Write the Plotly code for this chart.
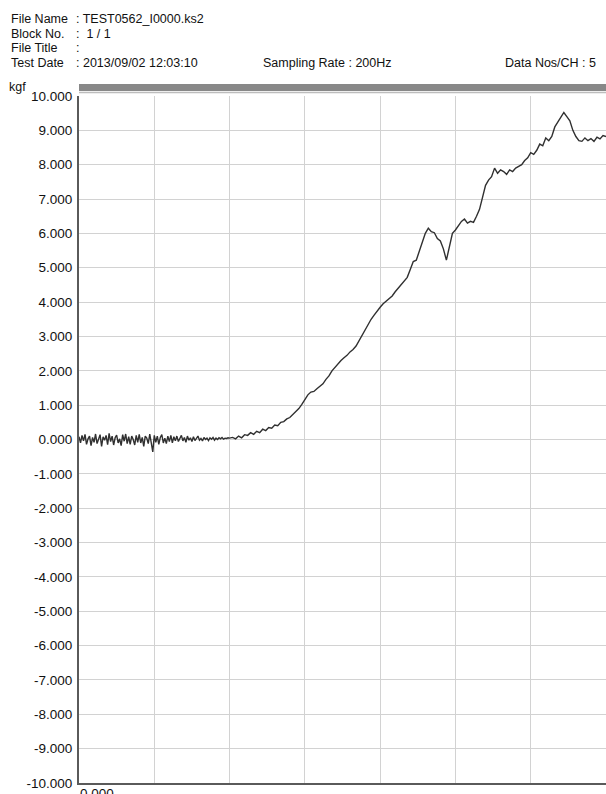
import plotly.graph_objects as go

# ---- recorded force trace (kgf) ----
# idle part, sampled every IDLE_STEP from t = 0
IDLE_STEP = 0.02
idle_kgf = [
    0.08, -0.10, 0.12, -0.04, 0.15, -0.14, 0.02, 0.10, -0.18, 0.06,
    -0.08, 0.16, -0.12, 0.04, 0.14, -0.20, 0.08, -0.02, 0.12, -0.15,
    0.18, -0.06, 0.10, -0.16, 0.05, 0.13, -0.10, 0.02, -0.18, 0.14,
    -0.05, 0.16, -0.12, 0.08, -0.14, 0.10, 0.00, -0.16, 0.12, -0.08,
    0.15, -0.10, 0.06, -0.20, 0.10, 0.04, -0.12, 0.16, -0.06, -0.36,
    0.12, -0.08, 0.10, -0.14, 0.06, 0.14, -0.10, 0.04, -0.12, 0.10,
    -0.06, 0.12, -0.10, 0.08, -0.04,
    0.10, -0.06, 0.04, 0.12, -0.04, 0.06, -0.08, 0.10, -0.02, 0.05,
    -0.06, 0.08, -0.03, 0.04, 0.10, -0.02, 0.03, -0.04, 0.06, 0.00,
    0.04, -0.03, 0.05, 0.01, 0.06, -0.02, 0.04, 0.00, 0.05, 0.02,
    0.06, 0.01, 0.04, 0.03, 0.05,
]
# loading part, sampled every LOAD_STEP from t = LOAD_START
LOAD_START = 2.0
LOAD_STEP = 0.04
load_kgf = [
    0.04,
    0.06, 0.02, 0.10, 0.05, 0.14, 0.12, 0.20, 0.15, 0.24, 0.20,
    0.30, 0.26, 0.35, 0.33, 0.42, 0.40, 0.50, 0.52, 0.60, 0.64,
    0.72, 0.80, 0.90, 1.02, 1.15, 1.30, 1.38, 1.40, 1.48, 1.55,
    1.62, 1.75, 1.85, 2.00, 2.10, 2.22, 2.30, 2.38, 2.45, 2.55,
    2.62, 2.72, 2.88, 3.02, 3.20, 3.35, 3.50, 3.62, 3.75, 3.85,
    3.95, 4.02, 4.10, 4.18, 4.30, 4.40, 4.52, 4.62, 4.72, 4.95,
    5.18, 5.22, 5.50, 5.78, 6.00, 6.15, 6.05, 6.02, 5.85, 5.78,
    5.55, 5.22, 5.60, 6.00, 6.10, 6.22, 6.35, 6.42, 6.30, 6.35,
    6.32, 6.50, 6.70, 7.05, 7.40, 7.55, 7.65, 7.90, 7.75, 7.85,
    7.80, 7.72, 7.85, 7.80, 7.90, 7.95, 8.00, 8.12, 8.20, 8.35,
    8.30, 8.42, 8.60, 8.55, 8.78, 8.70, 8.82, 9.10, 9.25, 9.38,
    9.52, 9.40, 9.28, 9.00, 8.82, 8.70, 8.68, 8.78, 8.70, 8.76,
    8.68, 8.80, 8.75, 8.85, 8.82,
]
idle_time = [i * IDLE_STEP for i in range(len(idle_kgf))]
load_time = [LOAD_START + i * LOAD_STEP for i in range(len(load_kgf))]
time_axis = idle_time + load_time
force_kgf = idle_kgf + load_kgf

y_ticks = list(range(-10, 11))
y_tick_text = [f"{v:.3f}" for v in y_ticks]  # plain hyphen for negatives
x_ticks = list(range(0, 8))
x_tick_text = ["0.000"] + [""] * (len(x_ticks) - 1)

header_labels = ["File Name", "Block No.", "File Title", "Test Date"]
header_values = [": TEST0562_I0000.ks2", ":  1 / 1", ":", ": 2013/09/02 12:03:10"]
sampling_text = "Sampling Rate : 200Hz"
data_nos_text = "Data Nos/CH : 5"
unit_text = "kgf"

# ---- page geometry (pixels) ----
W, H = 606, 794
PL, PR, PT, PB = 79, 606, 96, 783

def px(x):
    return (x - PL) / (PR - PL)

def py(y):
    return (PB - y) / (PB - PT)

TEXT = "#111111"
FONT = "Liberation Sans"

fig = go.Figure()
fig.add_trace(go.Scatter(
    x=time_axis, y=force_kgf, mode="lines",
    line=dict(color="#303030", width=1.4),
    hoverinfo="skip", showlegend=False,
))

fig.update_layout(
    width=W, height=H, autosize=False,
    margin=dict(l=PL, r=W - PR, t=PT, b=H - PB, pad=0),
    paper_bgcolor="white", plot_bgcolor="white",
    showlegend=False,
    xaxis=dict(
        range=[0, 7], tickvals=x_ticks, ticktext=x_tick_text,
        showgrid=True, gridcolor="#d2d2d2", gridwidth=1,
        showline=True, linecolor="#5a5a5a", linewidth=2,
        zeroline=False, ticks="", ticklabelposition="outside right",
        ticklabelstandoff=-3, automargin=False,
        tickfont=dict(family=FONT, size=13.5, color=TEXT),
        fixedrange=True,
    ),
    yaxis=dict(
        range=[-10, 10], tickvals=y_ticks, ticktext=y_tick_text,
        showgrid=True, gridcolor="#d2d2d2", gridwidth=1,
        showline=True, linecolor="#5a5a5a", linewidth=2,
        zeroline=False, ticks="", ticklabelstandoff=2, automargin=False,
        tickfont=dict(family=FONT, size=13.5, color=TEXT),
        fixedrange=True,
    ),
)

# header bar above the plot area
fig.add_shape(type="rect", xref="paper", yref="paper",
              x0=0, x1=px(W + 5), y0=py(91), y1=py(84),
              fillcolor="#888888", line=dict(width=0), layer="above")
fig.add_shape(type="line", xref="paper", yref="paper",
              x0=0, x1=px(W + 5), y0=py(92.5), y1=py(92.5),
              line=dict(color="#bdbdbd", width=1.5), layer="above")

def text(x, y, s, size=12.5):
    fig.add_annotation(x=px(x), y=py(y), xref="paper", yref="paper",
                       text=s, showarrow=False, xanchor="left", yanchor="middle",
                       borderpad=0,
                       font=dict(family=FONT, size=size, color=TEXT))

rows_y = [19, 33.5, 48, 62.5]
for lab, val, yy in zip(header_labels, header_values, rows_y):
    text(10, yy, lab)
    text(75, yy, val)
text(262, 62.5, sampling_text)
text(504, 62.5, data_nos_text)
text(8, 87, unit_text)

fig.write_html("out.html")
